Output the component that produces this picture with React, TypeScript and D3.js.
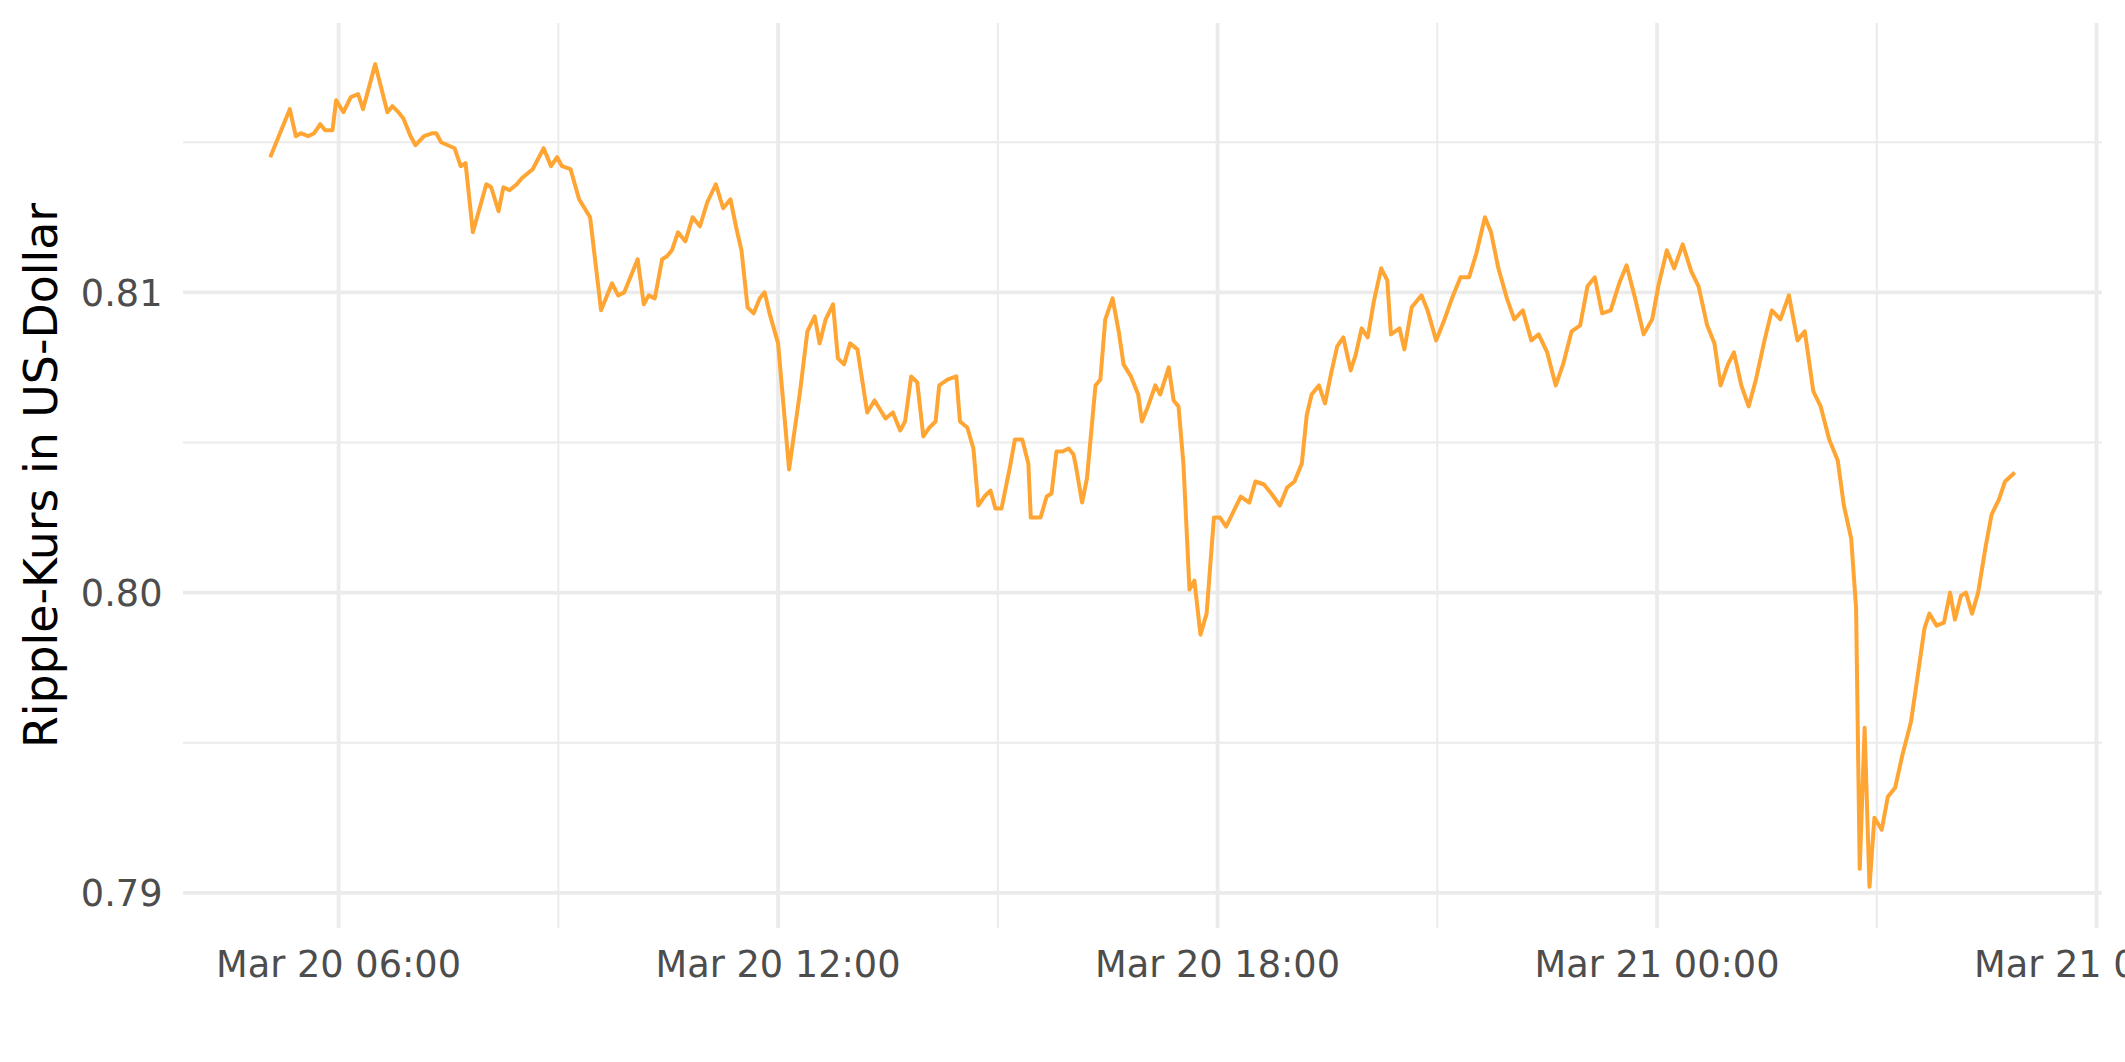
import React, { useEffect, useRef } from 'react';
import * as d3 from 'd3';

// Ripple (XRP) price, Mar 20 - Mar 21
const times: string[] = [
  '03-20 05:04', '03-20 05:20', '03-20 05:25', '03-20 05:29', '03-20 05:35', '03-20 05:40', '03-20 05:45', '03-20 05:49',
  '03-20 05:55', '03-20 05:58', '03-20 06:04', '03-20 06:10', '03-20 06:16', '03-20 06:20', '03-20 06:30', '03-20 06:40',
  '03-20 06:44', '03-20 06:49', '03-20 06:53', '03-20 06:59', '03-20 07:03', '03-20 07:10', '03-20 07:17', '03-20 07:20',
  '03-20 07:24', '03-20 07:35', '03-20 07:40', '03-20 07:44', '03-20 07:50', '03-20 08:01', '03-20 08:05', '03-20 08:11',
  '03-20 08:15', '03-20 08:20', '03-20 08:26', '03-20 08:30', '03-20 08:39', '03-20 08:48', '03-20 08:54', '03-20 08:59',
  '03-20 09:03', '03-20 09:10', '03-20 09:17', '03-20 09:26', '03-20 09:35', '03-20 09:44', '03-20 09:49', '03-20 09:54',
  '03-20 10:00', '03-20 10:05', '03-20 10:10', '03-20 10:14', '03-20 10:19', '03-20 10:25', '03-20 10:29', '03-20 10:33',
  '03-20 10:38', '03-20 10:44', '03-20 10:50', '03-20 10:56', '03-20 11:02', '03-20 11:09', '03-20 11:15', '03-20 11:21',
  '03-20 11:26', '03-20 11:30', '03-20 11:35', '03-20 11:40', '03-20 11:45', '03-20 11:49', '03-20 11:53', '03-20 12:00',
  '03-20 12:09', '03-20 12:18', '03-20 12:24', '03-20 12:30', '03-20 12:34', '03-20 12:39', '03-20 12:45', '03-20 12:49',
  '03-20 12:54', '03-20 12:59', '03-20 13:05', '03-20 13:13', '03-20 13:19', '03-20 13:28', '03-20 13:34', '03-20 13:40',
  '03-20 13:44', '03-20 13:49', '03-20 13:54', '03-20 13:59', '03-20 14:04', '03-20 14:09', '03-20 14:12', '03-20 14:19',
  '03-20 14:26', '03-20 14:29', '03-20 14:35', '03-20 14:40', '03-20 14:44', '03-20 14:49', '03-20 14:54', '03-20 14:58',
  '03-20 15:03', '03-20 15:10', '03-20 15:14', '03-20 15:20', '03-20 15:25', '03-20 15:27', '03-20 15:35', '03-20 15:40',
  '03-20 15:44', '03-20 15:48', '03-20 15:53', '03-20 15:58', '03-20 16:02', '03-20 16:04', '03-20 16:09', '03-20 16:13',
  '03-20 16:20', '03-20 16:24', '03-20 16:28', '03-20 16:34', '03-20 16:39', '03-20 16:43', '03-20 16:49', '03-20 16:55',
  '03-20 16:58', '03-20 17:03', '03-20 17:09', '03-20 17:13', '03-20 17:20', '03-20 17:24', '03-20 17:28', '03-20 17:32',
  '03-20 17:37', '03-20 17:41', '03-20 17:46', '03-20 17:51', '03-20 17:57', '03-20 18:02', '03-20 18:07', '03-20 18:13',
  '03-20 18:19', '03-20 18:26', '03-20 18:31', '03-20 18:38', '03-20 18:44', '03-20 18:51', '03-20 18:57', '03-20 19:03',
  '03-20 19:09', '03-20 19:13', '03-20 19:17', '03-20 19:23', '03-20 19:28', '03-20 19:33', '03-20 19:38', '03-20 19:43',
  '03-20 19:49', '03-20 19:53', '03-20 19:58', '03-20 20:03', '03-20 20:08', '03-20 20:14', '03-20 20:19', '03-20 20:22',
  '03-20 20:29', '03-20 20:33', '03-20 20:39', '03-20 20:47', '03-20 20:52', '03-20 20:59', '03-20 21:05', '03-20 21:12',
  '03-20 21:19', '03-20 21:26', '03-20 21:32', '03-20 21:39', '03-20 21:44', '03-20 21:50', '03-20 21:57', '03-20 22:03',
  '03-20 22:10', '03-20 22:17', '03-20 22:23', '03-20 22:30', '03-20 22:37', '03-20 22:43', '03-20 22:50', '03-20 22:57',
  '03-20 23:03', '03-20 23:09', '03-20 23:15', '03-20 23:22', '03-20 23:29', '03-20 23:35', '03-20 23:42', '03-20 23:49',
  '03-20 23:56', '03-21 00:01', '03-21 00:08', '03-21 00:14', '03-21 00:21', '03-21 00:28', '03-21 00:34', '03-21 00:41',
  '03-21 00:47', '03-21 00:52', '03-21 00:58', '03-21 01:03', '03-21 01:09', '03-21 01:15', '03-21 01:21', '03-21 01:28',
  '03-21 01:34', '03-21 01:41', '03-21 01:48', '03-21 01:55', '03-21 02:01', '03-21 02:08', '03-21 02:14', '03-21 02:21',
  '03-21 02:28', '03-21 02:33', '03-21 02:39', '03-21 02:43', '03-21 02:46', '03-21 02:50', '03-21 02:54', '03-21 02:58',
  '03-21 03:04', '03-21 03:09', '03-21 03:15', '03-21 03:21', '03-21 03:28', '03-21 03:33', '03-21 03:39', '03-21 03:43',
  '03-21 03:49', '03-21 03:55', '03-21 04:00', '03-21 04:04', '03-21 04:09', '03-21 04:13', '03-21 04:18', '03-21 04:23',
  '03-21 04:29', '03-21 04:34', '03-21 04:40', '03-21 04:45', '03-21 04:53',
];

const prices: number[] = [
  0.8145, 0.8161, 0.8152, 0.8153, 0.8152, 0.8153, 0.8156, 0.8154,
  0.8154, 0.8164, 0.8160, 0.8165, 0.8166, 0.8161, 0.8176, 0.8160,
  0.8162, 0.8160, 0.8158, 0.8152, 0.8149, 0.8152, 0.8153, 0.8153,
  0.8150, 0.8148, 0.8142, 0.8143, 0.8120, 0.8136, 0.8135, 0.8127,
  0.8135, 0.8134, 0.8136, 0.8138, 0.8141, 0.8148, 0.8142, 0.8145,
  0.8142, 0.8141, 0.8131, 0.8125, 0.8094, 0.8103, 0.8099, 0.8100,
  0.8106, 0.8111, 0.8096, 0.8099, 0.8098, 0.8111, 0.8112, 0.8114,
  0.8120, 0.8117, 0.8125, 0.8122, 0.8130, 0.8136, 0.8128, 0.8131,
  0.8121, 0.8114, 0.8095, 0.8093, 0.8098, 0.8100, 0.8093, 0.8083,
  0.8041, 0.8067, 0.8087, 0.8092, 0.8083, 0.8091, 0.8096, 0.8078,
  0.8076, 0.8083, 0.8081, 0.8060, 0.8064, 0.8058, 0.8060, 0.8054,
  0.8057, 0.8072, 0.8070, 0.8052, 0.8055, 0.8057, 0.8069, 0.8071,
  0.8072, 0.8057, 0.8055, 0.8048, 0.8029, 0.8032, 0.8034, 0.8028,
  0.8028, 0.8042, 0.8051, 0.8051, 0.8043, 0.8025, 0.8025, 0.8032,
  0.8033, 0.8047, 0.8047, 0.8048, 0.8046, 0.8042, 0.8030, 0.8038,
  0.8069, 0.8071, 0.8091, 0.8098, 0.8087, 0.8076, 0.8072, 0.8066,
  0.8057, 0.8062, 0.8069, 0.8066, 0.8075, 0.8064, 0.8062, 0.8043,
  0.8001, 0.8004, 0.7986, 0.7993, 0.8025, 0.8025, 0.8022, 0.8027,
  0.8032, 0.8030, 0.8037, 0.8036, 0.8033, 0.8029, 0.8035, 0.8037,
  0.8043, 0.8059, 0.8066, 0.8069, 0.8063, 0.8073, 0.8082, 0.8085,
  0.8074, 0.8079, 0.8088, 0.8085, 0.8097, 0.8108, 0.8104, 0.8086,
  0.8088, 0.8081, 0.8095, 0.8099, 0.8094, 0.8084, 0.8090, 0.8098,
  0.8105, 0.8105, 0.8113, 0.8125, 0.8120, 0.8108, 0.8098, 0.8091,
  0.8094, 0.8084, 0.8086, 0.8080, 0.8069, 0.8076, 0.8087, 0.8089,
  0.8102, 0.8105, 0.8093, 0.8094, 0.8103, 0.8109, 0.8098, 0.8086,
  0.8091, 0.8102, 0.8114, 0.8108, 0.8116, 0.8107, 0.8102, 0.8089,
  0.8083, 0.8069, 0.8076, 0.8080, 0.8069, 0.8062, 0.8071, 0.8084,
  0.8094, 0.8091, 0.8099, 0.8084, 0.8087, 0.8067, 0.8062, 0.8051,
  0.8044, 0.8029, 0.8018, 0.7995, 0.7908, 0.7955, 0.7902, 0.7925,
  0.7921, 0.7932, 0.7935, 0.7946, 0.7957, 0.7971, 0.7988, 0.7993,
  0.7989, 0.7990, 0.8000, 0.7991, 0.7999, 0.8000, 0.7993, 0.8000,
  0.8015, 0.8026, 0.8031, 0.8037, 0.8040,
];

const yTicks = [0.79, 0.8, 0.81];
const yMinorTicks = [0.795, 0.805, 0.815];
const yTitle = 'Ripple-Kurs in US-Dollar';

const App: React.FC = () => {
  const chartRef = useRef<SVGSVGElement>(null);

  useEffect(() => {
    if (!chartRef.current) return;
    document.body.style.margin = '0';

    const svg = d3.select(chartRef.current);
    svg.selectAll('*').remove();

    const width = 2125;
    const height = 1062;
    const margin = { top: 23, right: 23, bottom: 134, left: 183 };
    const font = "'DejaVu Sans', Verdana, sans-serif";

    const parse = d3.timeParse('%Y-%m-%d %H:%M');
    const data = times.map((t, i) => ({ date: parse('2018-' + t) as Date, value: prices[i] }));

    // ggplot-like 5% expansion
    const [t0, t1] = d3.extent(data, d => d.date) as [Date, Date];
    const tPad = (t1.getTime() - t0.getTime()) * 0.05;
    const [v0, v1] = d3.extent(data, d => d.value) as [number, number];
    const vPad = (v1 - v0) * 0.05;

    const x = d3.scaleTime()
      .domain([new Date(t0.getTime() - tPad), new Date(t1.getTime() + tPad)])
      .range([margin.left, width - margin.right]);

    const y = d3.scaleLinear()
      .domain([v0 - vPad, v1 + vPad])
      .range([height - margin.bottom, margin.top]);

    const grid = svg.append('g');

    const majorX = x.ticks(d3.timeHour.every(6) as d3.TimeInterval);
    const minorX = x.ticks(d3.timeHour.every(3) as d3.TimeInterval)
      .filter(d => d.getHours() % 6 !== 0);

    // minor grid
    grid.selectAll('line.minor-y')
      .data(yMinorTicks)
      .enter()
      .append('line')
      .attr('x1', margin.left)
      .attr('x2', width - margin.right)
      .attr('y1', d => y(d))
      .attr('y2', d => y(d))
      .attr('stroke', '#EBEBEB')
      .attr('stroke-width', 1.9);

    grid.selectAll('line.minor-x')
      .data(minorX)
      .enter()
      .append('line')
      .attr('x1', d => x(d))
      .attr('x2', d => x(d))
      .attr('y1', margin.top)
      .attr('y2', height - margin.bottom)
      .attr('stroke', '#EBEBEB')
      .attr('stroke-width', 1.9);

    // major grid
    grid.selectAll('line.major-y')
      .data(yTicks)
      .enter()
      .append('line')
      .attr('x1', margin.left)
      .attr('x2', width - margin.right)
      .attr('y1', d => y(d))
      .attr('y2', d => y(d))
      .attr('stroke', '#EBEBEB')
      .attr('stroke-width', 3.8);

    grid.selectAll('line.major-x')
      .data(majorX)
      .enter()
      .append('line')
      .attr('x1', d => x(d))
      .attr('x2', d => x(d))
      .attr('y1', margin.top)
      .attr('y2', height - margin.bottom)
      .attr('stroke', '#EBEBEB')
      .attr('stroke-width', 3.8);

    // price line
    const line = d3.line<{ date: Date; value: number }>()
      .x(d => x(d.date))
      .y(d => y(d.value));

    svg.append('path')
      .datum(data)
      .attr('d', line)
      .attr('fill', 'none')
      .attr('stroke', '#FFA533')
      .attr('stroke-width', 4)
      .attr('stroke-linejoin', 'round');

    // y tick labels
    svg.selectAll('text.y-label')
      .data(yTicks)
      .enter()
      .append('text')
      .attr('x', margin.left - 20.5)
      .attr('y', d => y(d))
      .attr('dy', '0.36em')
      .attr('text-anchor', 'end')
      .attr('fill', '#4D4D4D')
      .attr('font-family', font)
      .attr('font-size', 36.7)
      .text(d => d3.format('.2f')(d));

    // x tick labels
    const fmt = d3.timeFormat('%b %d %H:%M');
    svg.selectAll('text.x-label')
      .data(majorX)
      .enter()
      .append('text')
      .attr('x', d => x(d))
      .attr('y', height - margin.bottom + 20.5)
      .attr('dy', '0.78em')
      .attr('text-anchor', 'middle')
      .attr('fill', '#4D4D4D')
      .attr('font-family', font)
      .attr('font-size', 36.7)
      .text(d => fmt(d));

    // y axis title
    svg.append('text')
      .attr('transform', `translate(57,${(margin.top + height - margin.bottom) / 2}) rotate(-90)`)
      .attr('text-anchor', 'middle')
      .attr('fill', '#000000')
      .attr('font-family', font)
      .attr('font-size', 45.8)
      .text(yTitle);
  }, []);

  return <svg ref={chartRef} width={2125} height={1062} style={{ display: 'block', background: '#FFFFFF' }} />;
};

export default App;
